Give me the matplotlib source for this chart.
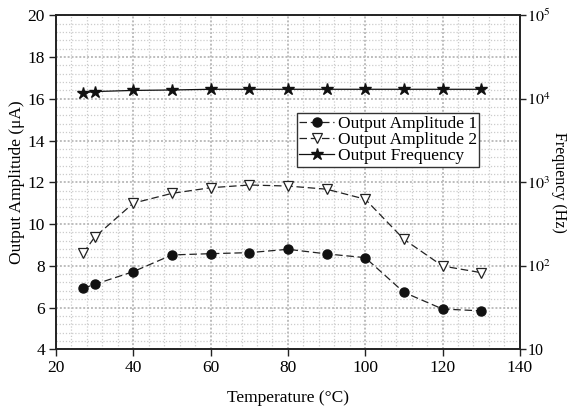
import matplotlib
matplotlib.use("Agg")
import matplotlib.pyplot as plt
from matplotlib.ticker import MultipleLocator, LogLocator, FixedLocator

plt.rcParams['font.family'] = ['Liberation Serif', 'DejaVu Serif']
plt.rcParams['mathtext.fontset'] = 'stix'

temperature = [27, 30, 40, 50, 60, 70, 80, 90, 100, 110, 120, 130]
amplitude1 = [6.92, 7.11, 7.72, 8.52, 8.58, 8.63, 8.79, 8.57, 8.39, 6.73, 5.93, 5.84]
amplitude2 = [8.60, 9.37, 11.00, 11.47, 11.74, 11.87, 11.82, 11.67, 11.19, 9.27, 7.99, 7.67]
frequency = [11800, 12200, 12600, 12750, 13000, 13000, 13000, 13000, 13000, 13000, 13000, 13000]

x_ticks = [20, 40, 60, 80, 100, 120, 140]
y_ticks = [4, 6, 8, 10, 12, 14, 16, 18, 20]
freq_ticks = [10, 100, 1000, 10000, 100000]
freq_labels = ['10', '$10^2$', '$10^3$', '$10^4$', '$10^5$']

fig = plt.figure(figsize=(5.67, 4.09), dpi=100)
ax = fig.add_axes([0.0988, 0.146, 0.818, 0.8166])
ax2 = ax.twinx()

fs = 12.5
ax.set_xlim(20, 140)
ax.set_ylim(4, 20)
ax.xaxis.set_major_locator(FixedLocator(x_ticks))
ax.yaxis.set_major_locator(FixedLocator(y_ticks))
ax.xaxis.set_minor_locator(MultipleLocator(4))
ax.yaxis.set_minor_locator(MultipleLocator(0.4))
ax.grid(which='major', color='#bdbdbd', linestyle=(0, (1, 1)), linewidth=1.4)
ax.grid(which='minor', color='#cccccc', linestyle=(0, (1, 1.5)), linewidth=0.9)
ax.set_axisbelow(True)
ax.tick_params(which='minor', length=0)
ax.tick_params(which='major', direction='out', length=5, width=1, pad=3, labelsize=fs, top=False, color='#222222')

l1, = ax.plot(temperature, amplitude1, color='#222222', linestyle=(0, (6, 3)), linewidth=0.9,
              marker='o', markersize=6.5, markerfacecolor='#111111', markeredgecolor='#111111',
              label='Output Amplitude 1')
l2, = ax.plot(temperature, amplitude2, color='#222222', linestyle=(0, (6, 3)), linewidth=0.9,
              marker='v', markersize=7, markerfacecolor='white', markeredgecolor='#222222',
              markeredgewidth=0.9, label='Output Amplitude 2')

ax2.set_yscale('log')
ax2.set_ylim(10, 1e5)
ax2.yaxis.set_minor_locator(LogLocator(base=10, subs=[], numticks=10))
ax2.set_yticks(freq_ticks)
ax2.set_yticklabels(freq_labels)
ax2.tick_params(which='major', direction='out', length=4, width=1, pad=1.5, labelsize=11.5, color='#222222')
ax2.tick_params(which='minor', length=0)
l3, = ax2.plot(temperature, frequency, color='#111111', linestyle='-', linewidth=0.9,
               marker='*', markersize=9, markerfacecolor='#111111', markeredgecolor='#111111',
               label='Output Frequency')

for a in (ax, ax2):
    for s in a.spines.values():
        s.set_linewidth(1.2)
        s.set_color('#222222')

ax.set_xlabel('Temperature (°C)', fontsize=fs, va='center', ha='center')
ax.xaxis.set_label_coords(0.5, -0.146)
ax.set_ylabel('Output Amplitude (μA)', fontsize=fs, va='center', ha='center')
ax.yaxis.set_label_coords(-0.085, 0.5)
ax2.set_ylabel('Frequency (Hz)', fontsize=11.5, rotation=270, va='center', ha='center')
ax2.yaxis.set_label_coords(1.0835, 0.5)

leg = ax2.legend(handles=[l1, l2, l3], loc='upper left', bbox_to_anchor=(0.519, 0.707),
                 fontsize=fs, frameon=True, fancybox=False, edgecolor='#333333',
                 framealpha=1, borderpad=0.15, labelspacing=0.0, handlelength=2.0,
                 handletextpad=0.2, borderaxespad=0.0)
leg.get_frame().set_linewidth(1.0)

fig.savefig('out.png', dpi=100)
